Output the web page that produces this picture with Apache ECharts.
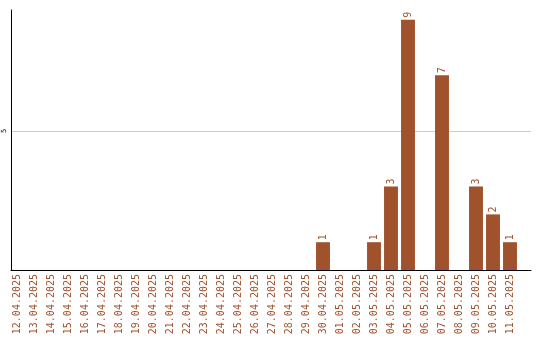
<!DOCTYPE html>
<html><head><meta charset="utf-8">
<script src="https://cdn.jsdelivr.net/npm/echarts@6/dist/echarts.min.js"></script>
<style>html,body{margin:0;padding:0;background:#fff}#c{width:540px;height:340px}</style>
</head><body><div id="c"></div>
<script>
const categories = ["12.04.2025","13.04.2025","14.04.2025","15.04.2025","16.04.2025","17.04.2025","18.04.2025","19.04.2025","20.04.2025","21.04.2025","22.04.2025","23.04.2025","24.04.2025","25.04.2025","26.04.2025","27.04.2025","28.04.2025","29.04.2025","30.04.2025","01.05.2025","02.05.2025","03.05.2025","04.05.2025","05.05.2025","06.05.2025","07.05.2025","08.05.2025","09.05.2025","10.05.2025","11.05.2025"];
const values = [0,0,0,0,0,0,0,0,0,0,0,0,0,0,0,0,0,0,1,0,0,1,3,9,0,7,0,3,2,1];
const yTicks = [5];
const brown = '#a0522d';
const yMax = 9.35;
const chart = echarts.init(document.getElementById('c'));
chart.setOption({
  animation: false,
  grid: [
    {left: 8.5, width: 510, top: 10, bottom: 70, containLabel: false},
    {left: 11, right: 9, top: 10, bottom: 70, containLabel: false}
  ],
  xAxis: [{
    type: 'category', data: categories, gridIndex: 0,
    axisLine: {show: false},
    axisTick: {show: false},
    axisLabel: {rotate: 90, color: brown, fontFamily: 'DejaVu Sans Mono', fontSize: 10, margin: 4, interval: 0}
  }, {
    type: 'value', gridIndex: 1, min: 0, max: 1,
    axisLine: {show: true, onZero: false, lineStyle: {color: '#000', width: 1}},
    axisTick: {show: false}, axisLabel: {show: false}, splitLine: {show: false}
  }],
  yAxis: [{
    type: 'value', gridIndex: 0, min: 0, max: yMax, show: false
  }, {
    type: 'value', gridIndex: 1, min: 0, max: yMax, interval: 5,
    axisLine: {show: true, onZero: false, lineStyle: {color: '#000', width: 1}},
    axisTick: {show: false},
    splitLine: {show: true, showMinLine: false, showMaxLine: false, lineStyle: {color: '#cccccc', width: 1}},
    axisLabel: {
      rotate: 90, color: '#000', fontFamily: 'DejaVu Sans Mono', fontSize: 7, margin: 3,
      showMaxLabel: false,
      formatter: v => yTicks.includes(v) ? String(v) : ''
    }
  }],
  series: [{
    type: 'bar', data: values, barCategoryGap: '18%', xAxisIndex: 0, yAxisIndex: 0,
    itemStyle: {color: brown},
    label: {
      show: true, position: 'top', rotate: 90, align: 'left', verticalAlign: 'middle', distance: 2,
      color: brown, fontFamily: 'DejaVu Sans Mono', fontSize: 10,
      formatter: p => p.value > 0 ? String(p.value) : ''
    }
  }]
});
</script></body></html>
